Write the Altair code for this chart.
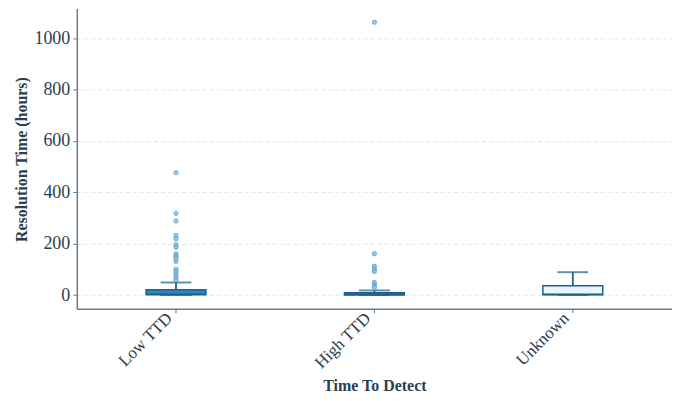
import altair as alt
import pandas as pd

categories = ["Low TTD", "High TTD", "Unknown"]
q1 = [1, 0.5, 1]
median = [4, 3, 3]
q3 = [21, 9, 36]
whisker_lo = [0, 0, 0]
whisker_hi = [49, 18, 89]

outliers_low = [476, 318, 288, 232, 219, 196, 186, 160, 151, 143, 131, 100, 90, 79, 69, 58]
outliers_high = [1062, 161, 112, 101, 92, 49, 39, 30]
outliers_unknown = []

box_df = pd.DataFrame({
    "cat": categories, "q1": q1, "median": median, "q3": q3,
    "lo": whisker_lo, "hi": whisker_hi,
})
out_df = pd.DataFrame({
    "cat": ["Low TTD"] * len(outliers_low) + ["High TTD"] * len(outliers_high) + ["Unknown"] * len(outliers_unknown),
    "v": outliers_low + outliers_high + outliers_unknown,
})

FONT = "Liberation Serif"
DARK = "#1f618d"
TEXT = "#2c3e50"
AXIS = "#6c7a89"

x = alt.X("cat:N", sort=categories, title="Time To Detect",
          scale=alt.Scale(paddingInner=0, paddingOuter=0),
          axis=alt.Axis(labelAngle=-45, labelAlign="right", labelBaseline="bottom",
                        labelFont=FONT, labelFontSize=17, labelColor=TEXT,
                        titleFont=FONT, titleFontSize=16, titleFontWeight="bold", titleColor=TEXT,
                        titleY=82, titleBaseline="alphabetic",
                        domainColor=AXIS, domainWidth=1.5, tickColor=AXIS,
                        tickSize=4, grid=False, labelPadding=9))
yscale = alt.Scale(domain=[-53, 1115], nice=False, zero=False)
yaxis = alt.Axis(values=[0, 200, 400, 600, 800, 1000], format="d", labelFont=FONT, labelFontSize=18,
                 labelColor=TEXT, titleFont=FONT, titleFontSize=16, titleFontWeight="bold",
                 titleColor=TEXT, titleX=-55, titleY=151, titleAngle=-90, titleBaseline="middle",
                 titleAlign="center", domainColor=AXIS, domainWidth=1.5,
                 tickColor=AXIS, tickSize=4, labelPadding=3, grid=True, gridColor="#dcdfe3",
                 gridDash=[4, 3], gridWidth=0.8)

base = alt.Chart(box_df)

stem = base.mark_rule(color=DARK, strokeWidth=1.8).encode(
    x=x, y=alt.Y("q3:Q", scale=yscale, axis=yaxis, title="Resolution Time (hours)"),
    y2="hi:Q")
box = base.mark_bar(size=60, stroke=DARK, strokeWidth=1.5).encode(
    x=x, y=alt.Y("q1:Q", scale=yscale), y2="q3:Q",
    color=alt.Color("cat:N", sort=categories, legend=None,
                    scale=alt.Scale(domain=categories, range=["#2e86c1", "#2874a6", "#eaf4fc"])))
med = base.mark_tick(size=60, thickness=2, color=DARK).encode(
    x=x, y=alt.Y("median:Q", scale=yscale))
cap_hi = base.mark_tick(size=31, thickness=2, color=DARK).encode(
    x=x, y=alt.Y("hi:Q", scale=yscale))
cap_lo = base.mark_tick(size=31, thickness=2, color=DARK).encode(
    x=x, y=alt.Y("lo:Q", scale=yscale))
pts = alt.Chart(out_df).mark_point(filled=True, size=18, fill="#85c1e9", stroke="#5499c7",
                                   strokeWidth=1, opacity=0.85).encode(
    x=x, y=alt.Y("v:Q", scale=yscale))

chart = alt.layer(stem, box, med, cap_lo, cap_hi, pts).properties(
    width=597, height=301, autosize=alt.AutoSizeParams(type="none"),
    padding={"left": 69, "top": 0, "right": 0, "bottom": 84},
).configure(background="white", view=alt.ViewConfig(stroke=None))

chart.save("out.html", embed_options={"renderer": "svg", "actions": False})
